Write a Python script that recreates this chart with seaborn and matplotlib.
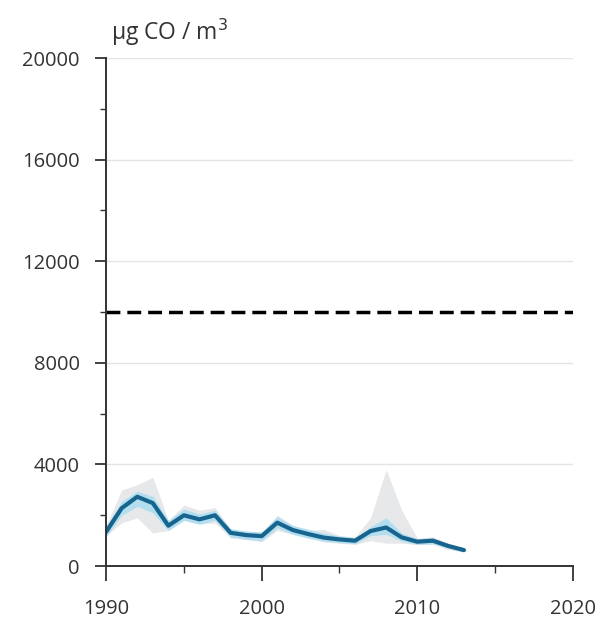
import numpy as np
import pandas as pd
import matplotlib
matplotlib.use('Agg')
import matplotlib.pyplot as plt
from matplotlib.ticker import MultipleLocator
import seaborn as sns

# CO concentration, yearly mean with ranges
years = list(range(1990, 2014))
co_mean = [1350, 2280, 2730, 2480, 1590, 2000, 1840, 2000, 1310, 1220, 1180, 1710,
           1420, 1260, 1120, 1050, 1000, 1380, 1520, 1130, 960, 1000, 790, 630]
blue_lo = [1150, 2000, 2350, 2100, 1400, 1800, 1650, 1800, 1150, 1050, 1000, 1500,
           1250, 1100, 980, 920, 880, 1200, 1250, 980, 850, 880, 700, 560]
blue_hi = [1550, 2550, 2950, 2750, 1800, 2250, 2050, 2200, 1480, 1380, 1350, 1950,
           1600, 1450, 1300, 1180, 1120, 1550, 1900, 1300, 1080, 1120, 880, 700]
gray_lo = [1200, 1700, 1900, 1300, 1400, 1800, 1650, 1700, 1100, 1050, 950, 1400,
           1250, 1100, 950, 900, 850, 1000, 900, 900, 850, 850, 650, 550]
gray_hi = [1600, 3000, 3200, 3500, 1800, 2400, 2200, 2300, 1450, 1350, 1300, 2000,
           1600, 1400, 1450, 1200, 1150, 1900, 3800, 2200, 1100, 1150, 900, 720]
limit_years = [1990, 2020]
limit_value = [10000, 10000]

df = pd.DataFrame({'year': years, 'co': co_mean})

sns.set_style('white')
plt.rcParams['font.family'] = ['Open Sans', 'DejaVu Sans']

fig = plt.figure(figsize=(6.03, 6.18), dpi=100)
ax = fig.add_axes([0.176, 0.084, 0.774, 0.822])

ax.fill_between(years, gray_lo, gray_hi, color='#dcdfe1', alpha=0.7, lw=0)
ax.fill_between(years, blue_lo, blue_hi, color='#a6dcf3', alpha=0.8, lw=0)
sns.lineplot(data=df, x='year', y='co', ax=ax, color='#17658f', lw=3)
ax.plot(limit_years, limit_value, color='black', lw=2.5, ls=(0, (4, 2)))

ax.set_xlim(1990, 2020)
ax.set_ylim(0, 20000)
ax.xaxis.set_major_locator(MultipleLocator(10))
ax.xaxis.set_minor_locator(MultipleLocator(5))
ax.yaxis.set_major_locator(MultipleLocator(4000))
ax.yaxis.set_minor_locator(MultipleLocator(2000))
ax.tick_params(which='both', bottom=True, left=True, color='#333333')
ax.tick_params(axis='x', which='major', length=11, width=1.3, labelsize=14.5, pad=13)
ax.tick_params(axis='x', which='minor', length=5, width=1)
ax.tick_params(axis='y', which='major', length=8, width=1.3, labelsize=14.5, pad=11)
ax.tick_params(axis='y', which='minor', length=4, width=1)
for lab in ax.get_xticklabels() + ax.get_yticklabels():
    lab.set_color('#333333')

ax.grid(axis='y', which='major', color='#e4e4e4', lw=1)
ax.set_axisbelow(True)
sns.despine(ax=ax)
ax.spines['left'].set_linewidth(1.4)
ax.spines['bottom'].set_linewidth(1.4)
ax.spines['left'].set_color('#333333')
ax.spines['bottom'].set_color('#333333')
ax.set_xlabel('')
ax.set_ylabel('')

fig.text(0.184, 0.935, 'µg CO / m$^3$', fontsize=16.5, color='#333333')

fig.savefig('out.png', dpi=100)
